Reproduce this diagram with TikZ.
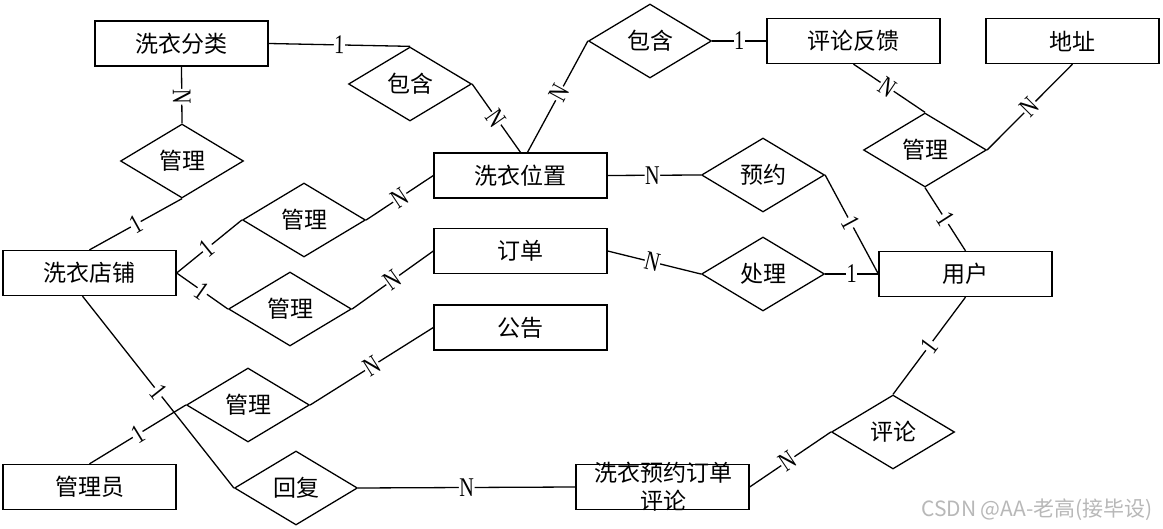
\documentclass[tikz,border=0pt]{standalone}
\usepackage{fontspec}
\usetikzlibrary{shapes.geometric}
\newfontfamily\cjk{Noto Sans CJK SC}
\newfontfamily\labfont{Liberation Serif}
\newcommand\lbl[1]{\scalebox{0.75}[1]{\labfont\fontsize{27}{27}\selectfont #1}}
\tikzset{
  ent/.style={draw, line width=1.3pt, minimum width=173pt, minimum height=45pt, inner sep=0pt, font=\cjk\fontsize{23}{23}\selectfont},
  rel/.style={draw, diamond, line width=1.3pt, minimum width=123pt, minimum height=74pt, inner sep=0pt, font=\cjk\fontsize{23}{23}\selectfont},
  conn/.style={line width=1.3pt},
  lab/.style={fill=white, inner sep=0.5pt, sloped}
}
\begin{document}
\begin{tikzpicture}[x=1pt,y=-1pt]
\useasboundingbox[fill=white] (0,0) rectangle (1163,529);
% entities
\node[ent] (fenlei) at (181.5,43.5) {洗衣分类};
\node[ent] (fankui) at (853.5,41) {评论反馈};
\node[ent] (dizhi) at (1072.5,41) {地址};
\node[ent] (weizhi) at (520.5,175.5) {洗衣位置};
\node[ent] (dingdan) at (520.5,251) {订单};
\node[ent] (yonghu) at (965.5,274) {用户};
\node[ent] (dianpu) at (89.5,273) {洗衣店铺};
\node[ent] (gonggao) at (520.5,327.5) {公告};
\node[ent] (guanliyuan) at (89.5,487) {管理员};
\node[ent] (pjbox) at (662.5,487) {};
\node[font=\cjk\fontsize{23}{23}\selectfont] (pjtext) at (663,473) {洗衣预约订单};
\node[font=\cjk\fontsize{23}{23}\selectfont] (pjtext2) at (663,501) {评论};
% relationships
\node[rel] (bh1) at (410,84) {包含};
\node[rel] (bh2) at (650,41) {包含};
\node[rel] (gl1) at (182,161) {管理};
\node[rel] (gl2) at (304,220) {管理};
\node[rel] (gl3) at (290,309) {管理};
\node[rel] (gl4) at (248,405) {管理};
\node[rel] (hf) at (296,488) {回复};
\node[rel] (yy) at (763,175) {预约};
\node[rel] (cl) at (763,274) {处理};
\node[rel] (glr) at (925,150) {管理};
\node[rel] (pl) at (893,432) {评论};
% connectors
\draw[conn] (fenlei.east) -- node[lab,pos=0.5]{\lbl{1}} (bh1.north);
\draw[conn] (bh1.east) -- node[lab,pos=0.5]{\lbl{N}} (weizhi.north);
\draw[conn] ([xshift=7pt]weizhi.north) -- node[lab,pos=0.53]{\lbl{N}} (bh2.west);
\draw[conn] (bh2.east) -- node[lab,pos=0.5]{\lbl{1}} (fankui.west);
\draw[conn] (fankui.south) -- node[lab,pos=0.47]{\lbl{N}} (glr.north);
\draw[conn] (dizhi.south) -- node[lab,pos=0.5]{\lbl{N}} (glr.east);
\draw[conn] (glr.south) -- node[lab,pos=0.5]{\lbl{1}} (yonghu.north);
\draw[conn] (yy.east) -- node[lab,pos=0.48]{\lbl{1}} (yonghu.west);
\draw[conn] (cl.east) -- node[lab,pos=0.5]{\lbl{1}} (yonghu.west);
\draw[conn] (dingdan.east) -- node[lab,pos=0.48]{\lbl{N}} (cl.west);
\draw[conn] (weizhi.east) -- node[lab,pos=0.48]{\lbl{N}} (yy.west);
\draw[conn] (dianpu.north) -- node[lab,pos=0.5]{\lbl{1}} (gl1.south);
\draw[conn] (gl1.north) -- node[lab,pos=0.47]{\lbl{N}} (fenlei.south);
\draw[conn] (dianpu.east) -- node[lab,pos=0.47]{\lbl{1}} (gl2.west);
\draw[conn] (dianpu.east) -- node[lab,pos=0.5]{\lbl{1}} (gl3.west);
\draw[conn] (gl2.east) -- node[lab,pos=0.5]{\lbl{N}} (weizhi.west);
\draw[conn] (gl3.east) -- node[lab,pos=0.5]{\lbl{N}} (dingdan.west);
\draw[conn] (gl4.east) -- node[lab,pos=0.5]{\lbl{N}} (gonggao.west);
\draw[conn] (guanliyuan.north) -- node[lab,pos=0.5]{\lbl{1}} (gl4.west);
\draw[conn] ([xshift=-7pt]dianpu.south) -- node[lab,pos=0.5]{\lbl{1}} (hf.west);
\draw[conn] (hf.east) -- node[lab,pos=0.5]{\lbl{N}} (pjbox.west);
\draw[conn] (pjbox.east) -- node[lab,pos=0.47]{\lbl{N}} (pl.west);
\draw[conn] (pl.north) -- node[lab,pos=0.5]{\lbl{1}} (yonghu.south);
% watermark
\node[font=\cjk\fontsize{21}{21}\selectfont, text=black!28] (wm) at (1037,510) {CSDN @AA-老高(接毕设)};
\end{tikzpicture}
\end{document}
